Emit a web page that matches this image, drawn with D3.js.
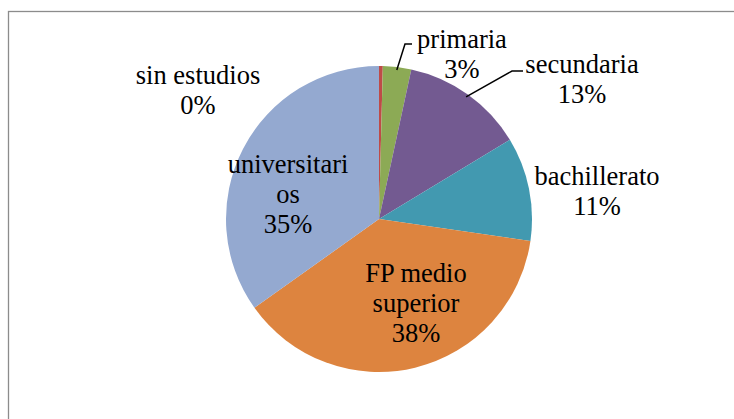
<!DOCTYPE html>
<html>
<head>
<meta charset="utf-8">
<script src="https://cdn.jsdelivr.net/npm/d3@7"></script>
<style>
  body { margin: 0; background: #fff; }
</style>
</head>
<body>
<div id="chart"></div>
<script>
// datos del gráfico (en %)
const categorias = ["sin estudios", "primaria", "secundaria", "bachillerato", "FP medio superior", "universitarios"];
const valores = [0.4, 3, 13, 11, 38, 35];
const colores = ["#BE4B48", "#8CAA55", "#735A91", "#4299B0", "#DD843F", "#94A9D0"];

// líneas de texto de cada etiqueta
const lineasEtiqueta = [
  ["sin estudios"],
  ["primaria"],
  ["secundaria"],
  ["bachillerato"],
  ["FP medio", "superior"],
  ["universitari", "os"]
];

const width = 734, height = 419;
const cx = 379, cy = 219, radio = 153;

// posición de cada etiqueta respecto al centro (x centro, primera línea base)
const posEtiqueta = [
  [-181, -135], [83, -171], [203, -146], [218, -34], [37, 63], [-91, -46]
];
// guías para las etiquetas exteriores
const guias = [
  { i: 1, x0: 33, y0: -175, x1: 26 },
  { i: 2, x0: 144, y0: -148, x1: 133 }
];

const svg = d3.select("#chart").append("svg")
  .attr("width", width)
  .attr("height", height);

// marco
svg.append("rect")
  .attr("x", 8.5).attr("y", 11.5)
  .attr("width", 740).attr("height", 430)
  .attr("fill", "none")
  .attr("stroke", "#8c8c8c")
  .attr("stroke-width", 1.3);

const g = svg.append("g").attr("transform", `translate(${cx},${cy})`);

const pie = d3.pie().sort(null).value(d => d);
const arcs = pie(valores);
const arc = d3.arc().innerRadius(0).outerRadius(radio);
const total = d3.sum(valores);

g.selectAll("path.slice")
  .data(arcs)
  .enter().append("path")
  .attr("class", "slice")
  .attr("d", arc)
  .attr("fill", (d, i) => colores[i]);

// líneas guía
guias.forEach(gd => {
  const a = arcs[gd.i];
  const mid = (a.startAngle + a.endAngle) / 2;
  const px = Math.sin(mid) * (radio - 3), py = -Math.cos(mid) * (radio - 3);
  g.append("polyline")
    .attr("points", `${gd.x0},${gd.y0} ${gd.x1},${gd.y0} ${px},${py}`)
    .attr("fill", "none")
    .attr("stroke", "#000")
    .attr("stroke-width", 1.5);
});

// etiquetas
arcs.forEach((a, i) => {
  const lineas = lineasEtiqueta[i].concat([Math.round(a.value / total * 100) + "%"]);
  const t = g.append("text")
    .attr("text-anchor", "middle")
    .style("font-family", "'Liberation Serif'")
    .style("font-size", "26.5px")
    .attr("fill", "#000")
    .attr("x", posEtiqueta[i][0])
    .attr("y", posEtiqueta[i][1]);
  lineas.forEach((l, k) => {
    t.append("tspan")
      .attr("x", posEtiqueta[i][0])
      .attr("dy", k === 0 ? 0 : 30)
      .text(l);
  });
});
</script>
</body>
</html>
